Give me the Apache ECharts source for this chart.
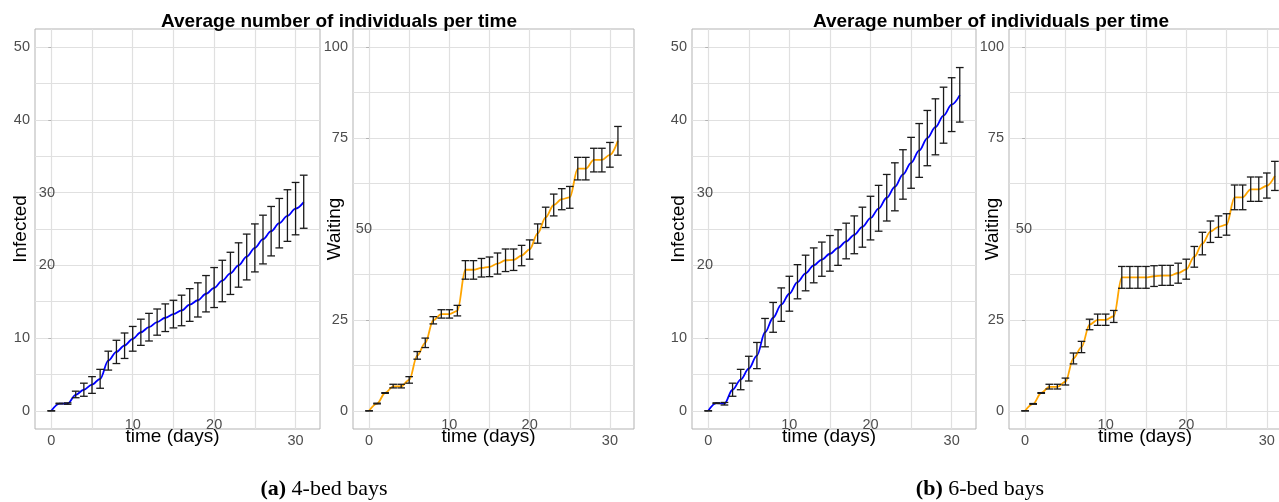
<!DOCTYPE html>
<html>
<head>
<meta charset="utf-8">
<script src="https://cdn.jsdelivr.net/npm/echarts@6/dist/echarts.min.js"></script>
<style>
html,body{margin:0;padding:0;background:#ffffff;}
#chart{width:1279px;height:502px;}
</style>
</head>
<body>
<div id="chart"></div>
<script>
// ---------------- data ----------------
const days = [0,1,2,3,4,5,6,7,8,9,10,11,12,13,14,15,16,17,18,19,20,21,22,23,24,25,26,27,28,29,30,31];

// (a) 4-bed bays
const infected4Mean = [0,1.0,1.0,2.2,2.9,3.6,4.4,6.9,8.1,9.0,9.9,10.8,11.5,12.2,12.8,13.3,13.8,14.6,15.2,16.1,16.9,17.9,18.9,20.0,21.2,22.4,23.6,24.7,25.8,26.8,27.8,28.7];
const infected4Low  = [0,0.95,0.9,1.8,2.0,2.4,3.1,5.6,6.5,7.2,8.2,9.0,9.6,10.4,10.9,11.4,11.7,12.3,12.9,13.6,14.2,15.0,16.0,17.0,18.0,19.1,20.2,21.3,22.4,23.3,24.2,25.1];
const infected4High = [0,1.05,1.1,2.7,3.8,4.7,5.7,8.2,9.7,10.7,11.6,12.6,13.4,14.0,14.7,15.2,15.9,16.8,17.6,18.6,19.7,20.7,21.8,23.1,24.3,25.7,26.9,28.1,29.2,30.4,31.4,32.4];

const waiting4Mean = [0,2.0,4.9,6.7,6.7,8.5,15.2,18.7,24.9,26.6,26.6,27.5,38.8,38.8,39.3,39.6,40.5,41.4,41.5,42.7,44.4,48.8,53.2,56.6,58.2,58.7,66.6,66.6,69.0,69.0,70.4,74.3];
const waiting4Low  = [0,1.9,4.8,6.3,6.3,7.6,14.2,17.4,23.9,25.5,25.5,26.1,36.2,36.2,36.8,36.9,37.6,38.3,38.6,39.9,41.7,46.1,50.4,53.6,55.3,55.7,63.5,63.5,65.7,65.7,67.0,70.3];
const waiting4High = [0,2.1,5.0,7.3,7.3,9.4,16.3,20.0,25.9,27.8,27.8,29.0,41.3,41.3,41.9,42.3,43.4,44.5,44.5,45.5,47.0,51.4,56.0,59.6,61.1,61.7,69.7,69.7,72.2,72.2,73.8,78.2];

// (b) 6-bed bays
const infected6Mean = [0,1.05,1.0,2.9,4.3,5.8,7.6,10.8,12.8,14.6,16.1,17.7,18.9,20.0,20.8,21.6,22.4,23.3,24.2,25.3,26.5,27.8,29.3,30.8,32.5,34.1,35.8,37.5,39.0,40.6,42.1,43.4];
const infected6Low  = [0,1.0,0.8,2.0,2.9,4.1,5.8,8.8,10.8,12.3,13.7,15.4,16.5,17.6,18.5,19.2,20.0,20.9,21.6,22.5,23.5,24.7,26.1,27.5,29.1,30.6,32.1,33.7,35.2,36.8,38.4,39.7];
const infected6High = [0,1.1,1.15,3.8,5.7,7.5,9.4,12.7,14.9,16.9,18.5,20.1,21.4,22.4,23.2,24.1,24.9,25.8,26.8,28.0,29.5,31.0,32.5,34.1,35.9,37.6,39.5,41.3,42.9,44.5,45.8,47.2];

const waiting6Mean = [0,1.9,4.9,6.6,6.6,8.0,14.4,17.5,23.7,25.0,25.0,26.0,36.7,36.7,36.7,36.7,37.0,37.2,37.2,37.9,38.9,42.4,46.0,49.3,50.6,51.2,58.7,58.7,60.9,60.9,61.9,64.6];
const waiting6Low  = [0,1.8,4.8,6.0,6.0,7.1,12.9,16.0,22.3,23.5,23.5,24.3,33.7,33.7,33.7,33.7,34.2,34.5,34.5,35.1,36.2,39.5,42.9,46.3,47.7,48.3,55.3,55.3,57.6,57.6,58.5,60.6];
const waiting6High = [0,2.0,5.0,7.3,7.3,9.0,15.9,19.1,25.2,26.6,26.6,27.6,39.7,39.7,39.7,39.7,39.9,40.0,40.0,40.6,41.7,45.2,49.1,52.2,53.6,54.2,62.1,62.1,64.3,64.3,65.4,68.6];

// tick labels
const xLabelsLow = [0, 30];
const xLabelsHigh = [10, 20];
const infectedLabelsLeft = [0, 10, 40, 50];
const infectedLabelsShifted = [20, 30];
const waitingLabelsLeft = [0, 25, 75, 100];
const waitingLabelsShifted = [50];

const titleText = 'Average number of individuals per time';
const xTitle = 'time (days)';

// ---------------- styling ----------------
const SANS = '"Liberation Sans", Arial, Helvetica, sans-serif';
const SERIF = '"Liberation Serif", "Times New Roman", serif';
const GRIDC = '#e0e0e0';
const NONE = 'rgba(0,0,0,0)';
const BORDER = '#b3b3b3';
const TICKC = '#4d4d4d';
const CAP = 0.95;

const panels = [
  {grid:{left:35, right:959, top:29, bottom:73}, kind:'inf', name:'Infected', nameGap:5,
   mean:infected4Mean, low:infected4Low, high:infected4High, color:'#0000ff', shift:-20},
  {grid:{left:353, right:645, top:29, bottom:73}, kind:'wait', name:'Waiting', nameGap:9,
   mean:waiting4Mean, low:waiting4Low, high:waiting4High, color:'#ffa500', shift:-19},
  {grid:{left:692, right:303, top:29, bottom:73}, kind:'inf', name:'Infected', nameGap:4,
   mean:infected6Mean, low:infected6Low, high:infected6High, color:'#0000ff', shift:-21},
  {grid:{left:1009, right:-12, top:29, bottom:73}, kind:'wait', name:'Waiting', nameGap:7,
   mean:waiting6Mean, low:waiting6Low, high:waiting6High, color:'#ffa500', shift:-23}
];

function errRender(params, api) {
  const x = api.value(0), lo = api.value(1), hi = api.value(2);
  const h = CAP / 2;
  const top = api.coord([x, hi]), bot = api.coord([x, lo]);
  const tl = api.coord([x - h, hi]), tr = api.coord([x + h, hi]);
  const bl = api.coord([x - h, lo]), br = api.coord([x + h, lo]);
  const st = {stroke:'#1a1a1a', lineWidth:1.3, fill:null};
  return {type:'group', children:[
    {type:'line', shape:{x1:top[0], y1:top[1], x2:bot[0], y2:bot[1]}, style:st},
    {type:'line', shape:{x1:tl[0], y1:tl[1], x2:tr[0], y2:tr[1]}, style:st},
    {type:'line', shape:{x1:bl[0], y1:bl[1], x2:br[0], y2:br[1]}, style:st}
  ]};
}

const grids = [], xAxes = [], yAxes = [], series = [];
panels.forEach((p, i) => {
  grids.push(Object.assign({show:true, borderColor:BORDER, borderWidth:1, backgroundColor:'#ffffff',
    containLabel:false, outerBoundsMode:'none'}, p.grid));

  const lblStyle = {color:TICKC, fontSize:14.5, fontFamily:SANS};
  // main x axis: grid lines, labels 0 & 30, title
  xAxes.push({type:'value', gridIndex:i, min:-2, max:33, interval:1,
    axisLine:{show:false}, axisTick:{show:false},
    axisLabel:Object.assign({margin:4, formatter:v => xLabelsLow.indexOf(v) >= 0 ? String(v) : ''}, lblStyle),
    splitLine:{show:true, lineStyle:{color:[NONE, NONE, GRIDC, NONE, NONE], width:1.2}},
    name:xTitle, nameLocation:'middle', nameGap:-2, nameMoveOverlap:false,
    nameTextStyle:{fontSize:19, color:'#000000', fontFamily:SANS, padding:[0,10,0,0]}
  });
  // secondary x axis: raised labels 10 & 20
  xAxes.push({type:'value', gridIndex:i, min:-2, max:33, interval:1, position:'bottom',
    axisLine:{show:false}, axisTick:{show:false}, splitLine:{show:false},
    axisLabel:Object.assign({margin:-12, formatter:v => xLabelsHigh.indexOf(v) >= 0 ? String(v) : ''}, lblStyle)
  });

  const isInf = p.kind === 'inf';
  const yMin = isInf ? -2.5 : -5, yMax = isInf ? 52.5 : 105;
  const cyc = isInf ? [NONE, GRIDC] : [NONE, NONE, GRIDC, NONE, NONE];
  const leftLabels = isInf ? infectedLabelsLeft : waitingLabelsLeft;
  const shiftLabels = isInf ? infectedLabelsShifted : waitingLabelsShifted;
  const allLabels = leftLabels.concat(shiftLabels);
  yAxes.push({type:'value', gridIndex:i, min:yMin, max:yMax, interval:2.5, position:'left',
    axisLine:{show:false}, axisTick:{show:false},
    axisLabel:Object.assign({margin:5, formatter:v => leftLabels.indexOf(v) >= 0 ? String(v) : ''}, lblStyle),
    splitLine:{show:true, lineStyle:{color:cyc, width:1.2}},
    name:p.name, nameLocation:'middle', nameRotate:90, nameGap:p.nameGap, nameMoveOverlap:false,
    nameTextStyle:{fontSize:19, color:'#000000', fontFamily:SANS}
  });
  yAxes.push({type:'value', gridIndex:i, min:yMin, max:yMax, interval:2.5, position:'left', offset:0,
    axisLine:{show:false}, splitLine:{show:false},
    axisTick:{show:true, length:3, customValues:allLabels, lineStyle:{color:BORDER, width:1}},
    axisLabel:Object.assign({margin:p.shift, formatter:v => shiftLabels.indexOf(v) >= 0 ? String(v) : ''}, lblStyle)
  });

  series.push({type:'line', xAxisIndex:2*i, yAxisIndex:2*i,
    data:days.map((d, k) => [d, p.mean[k]]),
    smooth:0.35, smoothMonotone:'x', symbol:'none', silent:true,
    lineStyle:{color:p.color, width:1.8}, z:2});
  series.push({type:'custom', xAxisIndex:2*i, yAxisIndex:2*i,
    data:days.map((d, k) => [d, p.low[k], p.high[k]]),
    encode:{x:0, y:[1, 2]}, renderItem:errRender, silent:true, z:3});
});

const option = {
  animation:false,
  backgroundColor:'#ffffff',
  grid:grids, xAxis:xAxes, yAxis:yAxes, series:series,
  graphic:[
    {type:'text', x:339, y:21.5, z:100,
     style:{text:titleText, textAlign:'center', textVerticalAlign:'middle',
            fontSize:19, fontWeight:'bold', fontFamily:SANS, fill:'#000000'}},
    {type:'text', x:991, y:21.5, z:100,
     style:{text:titleText, textAlign:'center', textVerticalAlign:'middle',
            fontSize:19, fontWeight:'bold', fontFamily:SANS, fill:'#000000'}},
    {type:'text', x:324, y:489.5, z:100,
     style:{text:'{b|(a)} 4-bed bays', textAlign:'center', textVerticalAlign:'middle',
            fontSize:22, fontFamily:SERIF, fill:'#000000',
            rich:{b:{fontSize:22, fontFamily:SERIF, fontWeight:'bold', fill:'#000000'}}}},
    {type:'text', x:980, y:489.5, z:100,
     style:{text:'{b|(b)} 6-bed bays', textAlign:'center', textVerticalAlign:'middle',
            fontSize:22, fontFamily:SERIF, fill:'#000000',
            rich:{b:{fontSize:22, fontFamily:SERIF, fontWeight:'bold', fill:'#000000'}}}}
  ]
};

const chart = echarts.init(document.getElementById('chart'), null, {renderer:'canvas'});
chart.setOption(option);
</script>
</body>
</html>
